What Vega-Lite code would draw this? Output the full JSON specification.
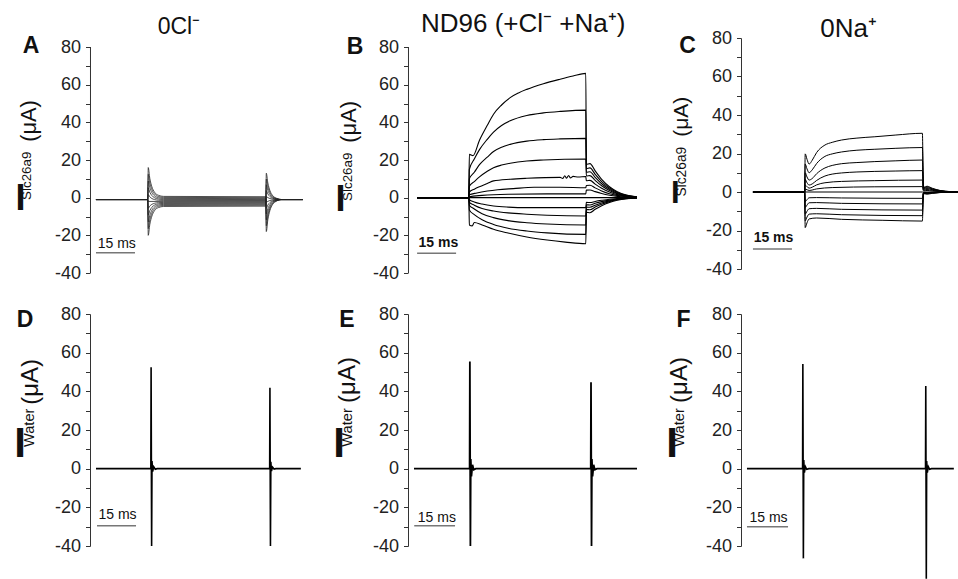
{
"$schema": "https://vega.github.io/schema/vega-lite/v6.json",
"autosize": {"type": "pad"},
"padding": {"left": 14, "top": 10, "right": 0, "bottom": 0},
"background": "white",
"config": {
  "view": {"stroke": null},
  "font": "Liberation Sans",
  "axis": {"grid": false, "domainColor": "#333", "tickColor": "#333", "tickSize": 4.5, "tickWidth": 1, "labelFontSize": 18, "labelColor": "#222", "labelPadding": 5, "labelOverlap": false, "labelFlush": false, "labelBound": false},
  "text": {"color": "#111", "font": "Liberation Sans"}
},
"datasets": {
"A": [
{"s":0,"t":0,"v":-1},{"s":0,"t":19.9,"v":-1},{"s":0,"t":20.1,"v":16},{"s":0,"t":20.7,"v":10.27},{"s":0,"t":21.5,"v":5.77},{"s":0,"t":22.5,"v":2.93},{"s":0,"t":24,"v":1.28},{"s":0,"t":26,"v":0.67},{"s":0,"t":65.3,"v":0.5},{"s":0,"t":65.5,"v":-18},{"s":0,"t":66.1,"v":-11.71},{"s":0,"t":66.9,"v":-6.78},{"s":0,"t":67.9,"v":-3.67},{"s":0,"t":69.4,"v":-1.85},{"s":0,"t":71.4,"v":-1},{"s":0,"t":79.6,"v":-1},
{"s":1,"t":0,"v":-1},{"s":1,"t":19.9,"v":-1},{"s":1,"t":20.1,"v":12.4},{"s":1,"t":20.7,"v":7.81},{"s":1,"t":21.5,"v":4.22},{"s":1,"t":22.5,"v":1.95},{"s":1,"t":24,"v":0.62},{"s":1,"t":26,"v":0.14},{"s":1,"t":65.3,"v":0},{"s":1,"t":65.5,"v":-14.9},{"s":1,"t":66.1,"v":-9.76},{"s":1,"t":66.9,"v":-5.73},{"s":1,"t":67.9,"v":-3.18},{"s":1,"t":69.4,"v":-1.7},{"s":1,"t":71.4,"v":-1},{"s":1,"t":79.6,"v":-1},
{"s":2,"t":0,"v":-1},{"s":2,"t":19.9,"v":-1},{"s":2,"t":20.1,"v":8.8},{"s":2,"t":20.7,"v":5.36},{"s":2,"t":21.5,"v":2.66},{"s":2,"t":22.5,"v":0.96},{"s":2,"t":24,"v":-0.03},{"s":2,"t":26,"v":-0.4},{"s":2,"t":65.3,"v":-0.5},{"s":2,"t":65.5,"v":-11.8},{"s":2,"t":66.1,"v":-7.8},{"s":2,"t":66.9,"v":-4.67},{"s":2,"t":67.9,"v":-2.7},{"s":2,"t":69.4,"v":-1.54},{"s":2,"t":71.4,"v":-1},{"s":2,"t":79.6,"v":-1},
{"s":3,"t":0,"v":-1},{"s":3,"t":19.9,"v":-1},{"s":3,"t":20.1,"v":5.2},{"s":3,"t":20.7,"v":2.91},{"s":3,"t":21.5,"v":1.11},{"s":3,"t":22.5,"v":-0.03},{"s":3,"t":24,"v":-0.69},{"s":3,"t":26,"v":-0.93},{"s":3,"t":65.3,"v":-1},{"s":3,"t":65.5,"v":-8.7},{"s":3,"t":66.1,"v":-5.85},{"s":3,"t":66.9,"v":-3.62},{"s":3,"t":67.9,"v":-2.21},{"s":3,"t":69.4,"v":-1.39},{"s":3,"t":71.4,"v":-1},{"s":3,"t":79.6,"v":-1},
{"s":4,"t":0,"v":-1},{"s":4,"t":19.9,"v":-1},{"s":4,"t":20.1,"v":1.6},{"s":4,"t":20.7,"v":0.45},{"s":4,"t":21.5,"v":-0.45},{"s":4,"t":22.5,"v":-1.01},{"s":4,"t":24,"v":-1.34},{"s":4,"t":26,"v":-1.47},{"s":4,"t":65.3,"v":-1.5},{"s":4,"t":65.5,"v":-5.6},{"s":4,"t":66.1,"v":-3.9},{"s":4,"t":66.9,"v":-2.56},{"s":4,"t":67.9,"v":-1.72},{"s":4,"t":69.4,"v":-1.23},{"s":4,"t":71.4,"v":-1},{"s":4,"t":79.6,"v":-1},
{"s":5,"t":0,"v":-1},{"s":5,"t":19.9,"v":-1},{"s":5,"t":20.1,"v":-2},{"s":5,"t":26,"v":-2},{"s":5,"t":65.3,"v":-2},{"s":5,"t":65.5,"v":-2.5},{"s":5,"t":66.1,"v":-1.95},{"s":5,"t":66.9,"v":-1.51},{"s":5,"t":67.9,"v":-1.24},{"s":5,"t":69.4,"v":-1.08},{"s":5,"t":71.4,"v":-1},{"s":5,"t":79.6,"v":-1},
{"s":6,"t":0,"v":-1},{"s":6,"t":19.9,"v":-1},{"s":6,"t":20.1,"v":-5.6},{"s":6,"t":20.7,"v":-4.45},{"s":6,"t":21.5,"v":-3.55},{"s":6,"t":22.5,"v":-2.99},{"s":6,"t":24,"v":-2.66},{"s":6,"t":26,"v":-2.53},{"s":6,"t":65.3,"v":-2.5},{"s":6,"t":65.5,"v":0.6},{"s":6,"t":66.1,"v":0.01},{"s":6,"t":66.9,"v":-0.46},{"s":6,"t":67.9,"v":-0.75},{"s":6,"t":69.4,"v":-0.92},{"s":6,"t":71.4,"v":-1},{"s":6,"t":79.6,"v":-1},
{"s":7,"t":0,"v":-1},{"s":7,"t":19.9,"v":-1},{"s":7,"t":20.1,"v":-9.2},{"s":7,"t":20.7,"v":-6.91},{"s":7,"t":21.5,"v":-5.11},{"s":7,"t":22.5,"v":-3.97},{"s":7,"t":24,"v":-3.31},{"s":7,"t":26,"v":-3.07},{"s":7,"t":65.3,"v":-3},{"s":7,"t":65.5,"v":3.7},{"s":7,"t":66.1,"v":1.96},{"s":7,"t":66.9,"v":0.6},{"s":7,"t":67.9,"v":-0.26},{"s":7,"t":69.4,"v":-0.76},{"s":7,"t":71.4,"v":-1},{"s":7,"t":79.6,"v":-1},
{"s":8,"t":0,"v":-1},{"s":8,"t":19.9,"v":-1},{"s":8,"t":20.1,"v":-12.8},{"s":8,"t":20.7,"v":-9.36},{"s":8,"t":21.5,"v":-6.66},{"s":8,"t":22.5,"v":-4.96},{"s":8,"t":24,"v":-3.97},{"s":8,"t":26,"v":-3.6},{"s":8,"t":65.3,"v":-3.5},{"s":8,"t":65.5,"v":6.8},{"s":8,"t":66.1,"v":3.91},{"s":8,"t":66.9,"v":1.65},{"s":8,"t":67.9,"v":0.22},{"s":8,"t":69.4,"v":-0.61},{"s":8,"t":71.4,"v":-1},{"s":8,"t":79.6,"v":-1},
{"s":9,"t":0,"v":-1},{"s":9,"t":19.9,"v":-1},{"s":9,"t":20.1,"v":-16.4},{"s":9,"t":20.7,"v":-11.81},{"s":9,"t":21.5,"v":-8.22},{"s":9,"t":22.5,"v":-5.95},{"s":9,"t":24,"v":-4.62},{"s":9,"t":26,"v":-4.14},{"s":9,"t":65.3,"v":-4},{"s":9,"t":65.5,"v":9.9},{"s":9,"t":66.1,"v":5.87},{"s":9,"t":66.9,"v":2.71},{"s":9,"t":67.9,"v":0.71},{"s":9,"t":69.4,"v":-0.45},{"s":9,"t":71.4,"v":-1},{"s":9,"t":79.6,"v":-1},
{"s":10,"t":0,"v":-1},{"s":10,"t":19.9,"v":-1},{"s":10,"t":20.1,"v":-20},{"s":10,"t":20.7,"v":-14.27},{"s":10,"t":21.5,"v":-9.77},{"s":10,"t":22.5,"v":-6.93},{"s":10,"t":24,"v":-5.28},{"s":10,"t":26,"v":-4.67},{"s":10,"t":65.3,"v":-4.5},{"s":10,"t":65.5,"v":13},{"s":10,"t":66.1,"v":7.82},{"s":10,"t":66.9,"v":3.76},{"s":10,"t":67.9,"v":1.2},{"s":10,"t":69.4,"v":-0.3},{"s":10,"t":71.4,"v":-1},{"s":10,"t":79.6,"v":-1}
],
"B": [
{"s":1,"t":0,"v":0},{"s":1,"t":19.9,"v":0},{"s":1,"t":20.1,"v":23},{"s":1,"t":21.5,"v":22.3},{"s":1,"t":24,"v":30.5},{"s":1,"t":27,"v":38.4},{"s":1,"t":29.4,"v":44.3},{"s":1,"t":32.5,"v":49.2},{"s":1,"t":35.8,"v":53.1},{"s":1,"t":39,"v":55.6},{"s":1,"t":42.2,"v":57.5},{"s":1,"t":48.6,"v":60.5},{"s":1,"t":55,"v":62.9},{"s":1,"t":60,"v":64.6},{"s":1,"t":64.9,"v":66},{"s":1,"t":65.1,"v":17.7},{"s":1,"t":66.5,"v":18.1},{"s":1,"t":68.5,"v":14.2},{"s":1,"t":71,"v":9.7},{"s":1,"t":74,"v":5.8},{"s":1,"t":77,"v":3.2},{"s":1,"t":80.5,"v":1.4},{"s":1,"t":84.6,"v":0.4},
{"s":2,"t":0,"v":0},{"s":2,"t":19.9,"v":0},{"s":2,"t":20.1,"v":15},{"s":2,"t":22,"v":20.5},{"s":2,"t":24,"v":25.5},{"s":2,"t":27,"v":31},{"s":2,"t":29.4,"v":34.8},{"s":2,"t":32.5,"v":38.3},{"s":2,"t":35.8,"v":40.8},{"s":2,"t":42.2,"v":43.6},{"s":2,"t":48.6,"v":45},{"s":2,"t":55,"v":45.8},{"s":2,"t":64.9,"v":46.5},{"s":2,"t":65.1,"v":15.5},{"s":2,"t":66.5,"v":15.8},{"s":2,"t":68.5,"v":12.4},{"s":2,"t":71,"v":8.5},{"s":2,"t":74,"v":5.1},{"s":2,"t":77,"v":2.8},{"s":2,"t":80.5,"v":1.2},{"s":2,"t":84.6,"v":0.3},
{"s":3,"t":0,"v":0},{"s":3,"t":19.9,"v":0},{"s":3,"t":20.1,"v":10},{"s":3,"t":22,"v":13.5},{"s":3,"t":24,"v":17.5},{"s":3,"t":27,"v":21.5},{"s":3,"t":29.4,"v":24.5},{"s":3,"t":32.5,"v":26.8},{"s":3,"t":35.8,"v":28.3},{"s":3,"t":42.2,"v":30},{"s":3,"t":48.6,"v":30.8},{"s":3,"t":55,"v":31.2},{"s":3,"t":64.9,"v":31.5},{"s":3,"t":65.1,"v":13.5},{"s":3,"t":66.5,"v":13.8},{"s":3,"t":68.5,"v":10.8},{"s":3,"t":71,"v":7.4},{"s":3,"t":74,"v":4.5},{"s":3,"t":77,"v":2.4},{"s":3,"t":80.5,"v":1.1},{"s":3,"t":84.6,"v":0.3},
{"s":4,"t":0,"v":0},{"s":4,"t":19.9,"v":0},{"s":4,"t":20.1,"v":6},{"s":4,"t":22,"v":8.5},{"s":4,"t":24,"v":11},{"s":4,"t":27,"v":14},{"s":4,"t":29.4,"v":15.9},{"s":4,"t":32.5,"v":17.3},{"s":4,"t":35.8,"v":18.3},{"s":4,"t":42.2,"v":19.5},{"s":4,"t":48.6,"v":20},{"s":4,"t":64.9,"v":20.5},{"s":4,"t":65.1,"v":11.5},{"s":4,"t":66.5,"v":11.7},{"s":4,"t":68.5,"v":9.2},{"s":4,"t":71,"v":6.3},{"s":4,"t":74,"v":3.8},{"s":4,"t":77,"v":2.1},{"s":4,"t":80.5,"v":0.9},{"s":4,"t":84.6,"v":0.2},
{"s":5,"t":0,"v":0},{"s":5,"t":19.9,"v":0},{"s":5,"t":20.1,"v":3},{"s":5,"t":22,"v":4.5},{"s":5,"t":24,"v":5.8},{"s":5,"t":27,"v":7.5},{"s":5,"t":29.4,"v":8.9},{"s":5,"t":35.8,"v":9.8},{"s":5,"t":42.2,"v":10.3},{"s":5,"t":55,"v":10.8},{"s":5,"t":56,"v":10.2},{"s":5,"t":56.8,"v":11.6},{"s":5,"t":57.5,"v":10.3},{"s":5,"t":58.3,"v":11.8},{"s":5,"t":59,"v":10.5},{"s":5,"t":60,"v":11.3},{"s":5,"t":62,"v":11},{"s":5,"t":64.9,"v":11.2},{"s":5,"t":65.1,"v":9},{"s":5,"t":66.5,"v":9.2},{"s":5,"t":68.5,"v":7.2},{"s":5,"t":71,"v":5},{"s":5,"t":74,"v":3},{"s":5,"t":77,"v":1.6},{"s":5,"t":80.5,"v":0.7},{"s":5,"t":84.6,"v":0.2},
{"s":6,"t":0,"v":0},{"s":6,"t":19.9,"v":0},{"s":6,"t":20.1,"v":1.5},{"s":6,"t":23,"v":2.5},{"s":6,"t":27,"v":3.5},{"s":6,"t":31,"v":4.2},{"s":6,"t":37,"v":4.8},{"s":6,"t":45,"v":5.5},{"s":6,"t":55,"v":5.5},{"s":6,"t":64.9,"v":5.3},{"s":6,"t":65.1,"v":6.5},{"s":6,"t":66.5,"v":6.6},{"s":6,"t":68.5,"v":5.2},{"s":6,"t":71,"v":3.6},{"s":6,"t":74,"v":2.1},{"s":6,"t":77,"v":1.2},{"s":6,"t":80.5,"v":0.5},{"s":6,"t":84.6,"v":0.1},
{"s":7,"t":0,"v":0},{"s":7,"t":19.9,"v":0},{"s":7,"t":20.1,"v":0.5},{"s":7,"t":25,"v":1.2},{"s":7,"t":35,"v":1.8},{"s":7,"t":50,"v":2},{"s":7,"t":64.9,"v":2},{"s":7,"t":65.1,"v":4},{"s":7,"t":66.5,"v":4.1},{"s":7,"t":68.5,"v":3.2},{"s":7,"t":71,"v":2.2},{"s":7,"t":74,"v":1.3},{"s":7,"t":77,"v":0.7},{"s":7,"t":80.5,"v":0.3},{"s":7,"t":84.6,"v":0.1},
{"s":8,"t":0,"v":0},{"s":8,"t":19.9,"v":0},{"s":8,"t":20.1,"v":0},{"s":8,"t":64.9,"v":0},{"s":8,"t":65.1,"v":0},{"s":8,"t":84.6,"v":0},
{"s":9,"t":0,"v":0},{"s":9,"t":19.9,"v":0},{"s":9,"t":20.1,"v":-1},{"s":9,"t":22,"v":-2.3},{"s":9,"t":25,"v":-3.4},{"s":9,"t":29.4,"v":-4.4},{"s":9,"t":35,"v":-5},{"s":9,"t":42.2,"v":-5.3},{"s":9,"t":64.9,"v":-5.3},{"s":9,"t":65.1,"v":-2.5},{"s":9,"t":66.5,"v":-2.6},{"s":9,"t":68.5,"v":-2},{"s":9,"t":71,"v":-1.4},{"s":9,"t":74,"v":-0.8},{"s":9,"t":77,"v":-0.5},{"s":9,"t":80.5,"v":-0.2},{"s":9,"t":84.6,"v":0},
{"s":10,"t":0,"v":0},{"s":10,"t":19.9,"v":0},{"s":10,"t":20.1,"v":-2.5},{"s":10,"t":22,"v":-4},{"s":10,"t":25,"v":-5.8},{"s":10,"t":29.4,"v":-7.1},{"s":10,"t":35,"v":-8.1},{"s":10,"t":42.2,"v":-8.8},{"s":10,"t":50,"v":-9.3},{"s":10,"t":64.9,"v":-9.7},{"s":10,"t":65.1,"v":-3.8},{"s":10,"t":66.5,"v":-3.9},{"s":10,"t":68.5,"v":-3},{"s":10,"t":71,"v":-2.1},{"s":10,"t":74,"v":-1.3},{"s":10,"t":77,"v":-0.7},{"s":10,"t":80.5,"v":-0.3},{"s":10,"t":84.6,"v":-0.1},
{"s":11,"t":0,"v":0},{"s":11,"t":19.9,"v":0},{"s":11,"t":20.1,"v":-4},{"s":11,"t":22,"v":-6},{"s":11,"t":25,"v":-8.5},{"s":11,"t":29.4,"v":-10.6},{"s":11,"t":35,"v":-12.2},{"s":11,"t":42.2,"v":-13.3},{"s":11,"t":50,"v":-14},{"s":11,"t":64.9,"v":-14.5},{"s":11,"t":65.1,"v":-5},{"s":11,"t":66.5,"v":-5.1},{"s":11,"t":68.5,"v":-4},{"s":11,"t":71,"v":-2.8},{"s":11,"t":74,"v":-1.7},{"s":11,"t":77,"v":-0.9},{"s":11,"t":80.5,"v":-0.4},{"s":11,"t":84.6,"v":-0.1},
{"s":12,"t":0,"v":0},{"s":12,"t":19.9,"v":0},{"s":12,"t":20.1,"v":-6.5},{"s":12,"t":22,"v":-9},{"s":12,"t":25,"v":-11.7},{"s":12,"t":29.4,"v":-14.2},{"s":12,"t":35,"v":-16.2},{"s":12,"t":42.2,"v":-17.7},{"s":12,"t":50,"v":-18.7},{"s":12,"t":64.9,"v":-19.5},{"s":12,"t":65.1,"v":-6.3},{"s":12,"t":66.5,"v":-6.4},{"s":12,"t":68.5,"v":-5},{"s":12,"t":71,"v":-3.5},{"s":12,"t":74,"v":-2.1},{"s":12,"t":77,"v":-1.1},{"s":12,"t":80.5,"v":-0.5},{"s":12,"t":84.6,"v":-0.1},
{"s":13,"t":0,"v":0},{"s":13,"t":19.9,"v":0},{"s":13,"t":20.1,"v":-14.5},{"s":13,"t":21.2,"v":-15},{"s":13,"t":22,"v":-13.2},{"s":13,"t":25,"v":-14.5},{"s":13,"t":29.4,"v":-16.8},{"s":13,"t":35,"v":-18.8},{"s":13,"t":42.2,"v":-20.9},{"s":13,"t":50,"v":-22.5},{"s":13,"t":57,"v":-23.6},{"s":13,"t":64.9,"v":-24.5},{"s":13,"t":65.1,"v":-7.8},{"s":13,"t":66.5,"v":-8},{"s":13,"t":68.5,"v":-6.2},{"s":13,"t":71,"v":-4.3},{"s":13,"t":74,"v":-2.6},{"s":13,"t":77,"v":-1.4},{"s":13,"t":80.5,"v":-0.6},{"s":13,"t":84.6,"v":-0.2}
],
"C": [
{"s":1,"t":0,"v":0},{"s":1,"t":19.9,"v":0},{"s":1,"t":20.1,"v":19.8},{"s":1,"t":20.8,"v":17},{"s":1,"t":21.6,"v":14.5},{"s":1,"t":22.8,"v":16.5},{"s":1,"t":24.5,"v":20.5},{"s":1,"t":27.7,"v":24.4},{"s":1,"t":30.5,"v":25.8},{"s":1,"t":34.1,"v":27},{"s":1,"t":40,"v":28},{"s":1,"t":46.9,"v":28.7},{"s":1,"t":55,"v":29.6},{"s":1,"t":65.2,"v":30.5},{"s":1,"t":65.6,"v":2.4},{"s":1,"t":67,"v":3},{"s":1,"t":69,"v":1.95},{"s":1,"t":72,"v":0.8},{"s":1,"t":76,"v":0.2},{"s":1,"t":79.2,"v":0},
{"s":2,"t":0,"v":0},{"s":2,"t":19.9,"v":0},{"s":2,"t":20.1,"v":14.5},{"s":2,"t":20.8,"v":12},{"s":2,"t":21.6,"v":10},{"s":2,"t":22.8,"v":11.5},{"s":2,"t":24.5,"v":14.8},{"s":2,"t":27.7,"v":18.5},{"s":2,"t":30.5,"v":19.8},{"s":2,"t":34.1,"v":20.8},{"s":2,"t":40,"v":21.7},{"s":2,"t":46.9,"v":22.2},{"s":2,"t":55,"v":22.7},{"s":2,"t":65.2,"v":23.1},{"s":2,"t":65.6,"v":2.1},{"s":2,"t":67,"v":2.6},{"s":2,"t":69,"v":1.7},{"s":2,"t":72,"v":0.7},{"s":2,"t":76,"v":0.2},{"s":2,"t":79.2,"v":0},
{"s":3,"t":0,"v":0},{"s":3,"t":19.9,"v":0},{"s":3,"t":20.1,"v":10},{"s":3,"t":20.8,"v":7.8},{"s":3,"t":21.6,"v":6.2},{"s":3,"t":22.8,"v":7},{"s":3,"t":24.5,"v":9.5},{"s":3,"t":27.7,"v":12.5},{"s":3,"t":30.5,"v":13.8},{"s":3,"t":34.1,"v":14.7},{"s":3,"t":40,"v":15.3},{"s":3,"t":46.9,"v":15.8},{"s":3,"t":55,"v":16.2},{"s":3,"t":65.2,"v":16.6},{"s":3,"t":65.6,"v":1.8},{"s":3,"t":67,"v":2.2},{"s":3,"t":69,"v":1.4},{"s":3,"t":72,"v":0.6},{"s":3,"t":76,"v":0.15},{"s":3,"t":79.2,"v":0},
{"s":4,"t":0,"v":0},{"s":4,"t":19.9,"v":0},{"s":4,"t":20.1,"v":6.5},{"s":4,"t":20.8,"v":4.8},{"s":4,"t":21.6,"v":3.6},{"s":4,"t":22.8,"v":4.2},{"s":4,"t":24.5,"v":6},{"s":4,"t":27.7,"v":8.3},{"s":4,"t":30.5,"v":9.3},{"s":4,"t":34.1,"v":9.9},{"s":4,"t":40,"v":10.4},{"s":4,"t":46.9,"v":10.7},{"s":4,"t":55,"v":10.9},{"s":4,"t":65.2,"v":11.1},{"s":4,"t":65.6,"v":1.4},{"s":4,"t":67,"v":1.8},{"s":4,"t":69,"v":1.2},{"s":4,"t":72,"v":0.5},{"s":4,"t":76,"v":0.1},{"s":4,"t":79.2,"v":0},
{"s":5,"t":0,"v":0},{"s":5,"t":19.9,"v":0},{"s":5,"t":20.1,"v":3.5},{"s":5,"t":21.6,"v":2},{"s":5,"t":22.8,"v":2.5},{"s":5,"t":24.5,"v":3.7},{"s":5,"t":27.7,"v":4.8},{"s":5,"t":34.1,"v":5.5},{"s":5,"t":46.9,"v":5.9},{"s":5,"t":65.2,"v":6.2},{"s":5,"t":65.6,"v":1},{"s":5,"t":67,"v":1.3},{"s":5,"t":69,"v":0.85},{"s":5,"t":72,"v":0.35},{"s":5,"t":76,"v":0.1},{"s":5,"t":79.2,"v":0},
{"s":6,"t":0,"v":0},{"s":6,"t":19.9,"v":0},{"s":6,"t":20.1,"v":1.5},{"s":6,"t":21.6,"v":0.8},{"s":6,"t":24.5,"v":1.6},{"s":6,"t":30.5,"v":2.3},{"s":6,"t":46.9,"v":2.7},{"s":6,"t":65.2,"v":2.8},{"s":6,"t":65.6,"v":0.6},{"s":6,"t":67,"v":0.8},{"s":6,"t":69,"v":0.5},{"s":6,"t":72,"v":0.2},{"s":6,"t":76,"v":0.05},{"s":6,"t":79.2,"v":0},
{"s":7,"t":0,"v":0},{"s":7,"t":19.9,"v":0},{"s":7,"t":20.1,"v":0},{"s":7,"t":65.2,"v":0},{"s":7,"t":65.6,"v":0},{"s":7,"t":79.2,"v":0},
{"s":8,"t":0,"v":0},{"s":8,"t":19.9,"v":0},{"s":8,"t":20.1,"v":-5},{"s":8,"t":20.8,"v":-4},{"s":8,"t":21.6,"v":-3},{"s":8,"t":24.5,"v":-2.9},{"s":8,"t":34.1,"v":-3.1},{"s":8,"t":65.2,"v":-3.3},{"s":8,"t":65.6,"v":-0.24},{"s":8,"t":67,"v":-0.3},{"s":8,"t":69,"v":-0.2},{"s":8,"t":72,"v":-0.08},{"s":8,"t":76,"v":-0.02},{"s":8,"t":79.2,"v":0},
{"s":9,"t":0,"v":0},{"s":9,"t":19.9,"v":0},{"s":9,"t":20.1,"v":-8},{"s":9,"t":20.8,"v":-6.8},{"s":9,"t":21.6,"v":-5.6},{"s":9,"t":24.5,"v":-5.5},{"s":9,"t":34.1,"v":-5.9},{"s":9,"t":65.2,"v":-6.2},{"s":9,"t":65.6,"v":-0.4},{"s":9,"t":67,"v":-0.5},{"s":9,"t":69,"v":-0.33},{"s":9,"t":72,"v":-0.14},{"s":9,"t":76,"v":-0.04},{"s":9,"t":79.2,"v":0},
{"s":10,"t":0,"v":0},{"s":10,"t":19.9,"v":0},{"s":10,"t":20.1,"v":-11.5},{"s":10,"t":20.8,"v":-10},{"s":10,"t":21.6,"v":-8.7},{"s":10,"t":24.5,"v":-8.5},{"s":10,"t":34.1,"v":-9},{"s":10,"t":65.2,"v":-9.4},{"s":10,"t":65.6,"v":-0.56},{"s":10,"t":67,"v":-0.7},{"s":10,"t":69,"v":-0.46},{"s":10,"t":72,"v":-0.19},{"s":10,"t":76,"v":-0.05},{"s":10,"t":79.2,"v":0},
{"s":11,"t":0,"v":0},{"s":11,"t":19.9,"v":0},{"s":11,"t":20.1,"v":-15},{"s":11,"t":20.8,"v":-13},{"s":11,"t":21.6,"v":-11.5},{"s":11,"t":24.5,"v":-11.3},{"s":11,"t":34.1,"v":-11.8},{"s":11,"t":65.2,"v":-12.3},{"s":11,"t":65.6,"v":-0.72},{"s":11,"t":67,"v":-0.9},{"s":11,"t":69,"v":-0.59},{"s":11,"t":72,"v":-0.24},{"s":11,"t":76,"v":-0.06},{"s":11,"t":79.2,"v":0},
{"s":12,"t":0,"v":0},{"s":12,"t":19.9,"v":0},{"s":12,"t":20.1,"v":-18.5},{"s":12,"t":20.8,"v":-16},{"s":12,"t":21.6,"v":-14},{"s":12,"t":24.5,"v":-13.5},{"s":12,"t":34.1,"v":-14.2},{"s":12,"t":50,"v":-14.7},{"s":12,"t":65.2,"v":-15.1},{"s":12,"t":65.6,"v":-0.88},{"s":12,"t":67,"v":-1.1},{"s":12,"t":69,"v":-0.72},{"s":12,"t":72,"v":-0.3},{"s":12,"t":76,"v":-0.08},{"s":12,"t":79.2,"v":0}
],
"D": [
{"s":1,"t":0,"v":0},{"s":1,"t":21.1,"v":0},{"s":1,"t":21.2,"v":52.5},{"s":1,"t":21.4,"v":-40},{"s":1,"t":21.55,"v":4},{"s":1,"t":21.8,"v":-1.5},{"s":1,"t":22.2,"v":1},{"s":1,"t":22.8,"v":-0.3},{"s":1,"t":23.5,"v":0},{"s":1,"t":66.8,"v":0},{"s":1,"t":66.9,"v":41.8},{"s":1,"t":67.1,"v":-40},{"s":1,"t":67.25,"v":3.5},{"s":1,"t":67.5,"v":-1.2},{"s":1,"t":67.9,"v":0.8},{"s":1,"t":68.5,"v":-0.2},{"s":1,"t":69.2,"v":0},{"s":1,"t":78.8,"v":0}
],
"E": [
{"s":1,"t":0,"v":0},{"s":1,"t":21.4,"v":0},{"s":1,"t":21.5,"v":55.4},{"s":1,"t":21.7,"v":-40},{"s":1,"t":21.85,"v":5},{"s":1,"t":22.1,"v":-4},{"s":1,"t":22.5,"v":2},{"s":1,"t":23,"v":-0.5},{"s":1,"t":23.8,"v":0},{"s":1,"t":68,"v":0},{"s":1,"t":68.1,"v":44.7},{"s":1,"t":68.3,"v":-40},{"s":1,"t":68.45,"v":5},{"s":1,"t":68.7,"v":-4},{"s":1,"t":69.1,"v":2},{"s":1,"t":69.6,"v":-0.5},{"s":1,"t":70.4,"v":0},{"s":1,"t":85.8,"v":0}
],
"F": [
{"s":1,"t":0,"v":0},{"s":1,"t":21.4,"v":0},{"s":1,"t":21.5,"v":54.2},{"s":1,"t":21.7,"v":-46.4},{"s":1,"t":21.85,"v":4.5},{"s":1,"t":22.1,"v":-2},{"s":1,"t":22.5,"v":1},{"s":1,"t":23,"v":-0.3},{"s":1,"t":23.8,"v":0},{"s":1,"t":68.7,"v":0},{"s":1,"t":68.8,"v":42.8},{"s":1,"t":69,"v":-57},{"s":1,"t":69.15,"v":4},{"s":1,"t":69.4,"v":-2},{"s":1,"t":69.8,"v":1},{"s":1,"t":70.3,"v":-0.3},{"s":1,"t":71,"v":0},{"s":1,"t":79.6,"v":0}
]
},
"columns": 3,
"bounds": "flush",
"align": "each",
"spacing": {"row": 41, "column": 0},
"concat": [
{"width": 318, "height": 235, "resolve": {"axis": {"x": "independent", "y": "independent"}}, "layer": [
  {"data": {"name": "A"}, "mark": {"type": "line", "interpolate": "monotone", "strokeWidth": 0.8, "color": "#222"},
   "encoding": {"x": {"field": "t", "type": "quantitative", "scale": {"domain": [-2.3, 120], "nice": false, "zero": false}, "axis": null},
     "y": {"field": "v", "type": "quantitative", "scale": {"domain": [-40, 84.78], "nice": false, "zero": false}, "axis": {"domain": false, "title": null, "values": [-40,-30,-20,-10,0,10,20,30,40,50,60,70,80], "labelExpr": "datum.value % 20 === 0 ? '' + datum.value : ''"}},
     "detail": {"field": "s"}}},
  {"data": {"values": [{}]}, "mark": {"type": "rule", "color": "#333", "strokeWidth": 1}, "encoding": {"x": {"datum": -2.11, "axis": null}, "y": {"datum": -40, "axis": null}, "y2": {"datum": 80}}},
  {"data": {"values": [{}]}, "mark": {"type": "rule", "color": "#777", "strokeWidth": 1.5}, "encoding": {"x": {"datum": 0, "axis": null}, "x2": {"datum": 15}, "y": {"datum": -29.2, "axis": null}}},
  {"data": {"values": [{}]}, "mark": {"type": "text", "fontSize": 14, "align": "center", "baseline": "alphabetic"}, "encoding": {"text": {"value": "15 ms"}, "x": {"datum": 8, "axis": null}, "y": {"datum": -26.7, "axis": null}}},
  {"data": {"values": [{}]}, "mark": {"type": "text", "fontSize": 23, "fontWeight": "bold", "align": "center", "baseline": "alphabetic"}, "encoding": {"text": {"value": "A"}, "x": {"datum": -25, "axis": null}, "y": {"datum": 76.7, "axis": null}}},
  {"data": {"values": [{}]}, "mark": {"type": "text", "fontSize": 23, "align": "center", "baseline": "alphabetic"}, "encoding": {"text": {"value": "0Cl⁻"}, "x": {"datum": 31.9, "axis": null}, "y": {"datum": 86.8, "axis": null}}},
  {"data": {"values": [{}]}, "mark": {"type": "text", "fontSize": 36, "fontWeight": "bold", "align": "center", "baseline": "alphabetic"}, "encoding": {"text": {"value": "I"}, "x": {"datum": -29, "axis": null}, "y": {"datum": -6.5, "axis": null}}},
  {"data": {"values": [{}]}, "mark": {"type": "text", "fontSize": 13.4, "angle": 270, "align": "left", "baseline": "alphabetic"}, "encoding": {"text": {"value": "Slc26a9"}, "x": {"datum": -24.8, "axis": null}, "y": {"datum": -1.2, "axis": null}}},
  {"data": {"values": [{}]}, "mark": {"type": "text", "fontSize": 21.8, "angle": 270, "align": "left", "baseline": "alphabetic"}, "encoding": {"text": {"value": "(μA)"}, "x": {"datum": -23.1, "axis": null}, "y": {"datum": 29.7, "axis": null}}}
]},
{"width": 333, "height": 235, "resolve": {"axis": {"x": "independent", "y": "independent"}}, "layer": [
  {"data": {"name": "B"}, "mark": {"type": "line", "interpolate": "monotone", "strokeWidth": 1.1, "color": "#000"},
   "encoding": {"x": {"field": "t", "type": "quantitative", "scale": {"domain": [-3.5, 124.6], "nice": false, "zero": false}, "axis": null},
     "y": {"field": "v", "type": "quantitative", "scale": {"domain": [-40, 84.78], "nice": false, "zero": false}, "axis": {"domain": false, "title": null, "values": [-40,-30,-20,-10,0,10,20,30,40,50,60,70,80], "labelExpr": "datum.value % 20 === 0 ? '' + datum.value : ''"}},
     "detail": {"field": "s"}}},
  {"data": {"values": [{}]}, "mark": {"type": "rule", "color": "#333", "strokeWidth": 1}, "encoding": {"x": {"datum": -3.31, "axis": null}, "y": {"datum": -40, "axis": null}, "y2": {"datum": 80}}},
  {"data": {"values": [{}]}, "mark": {"type": "rule", "color": "#777", "strokeWidth": 1.5}, "encoding": {"x": {"datum": 0, "axis": null}, "x2": {"datum": 15}, "y": {"datum": -29.5, "axis": null}}},
  {"data": {"values": [{}]}, "mark": {"type": "text", "fontSize": 14, "fontWeight": "bold", "align": "center", "baseline": "alphabetic"}, "encoding": {"text": {"value": "15 ms"}, "x": {"datum": 8.2, "axis": null}, "y": {"datum": -26.2, "axis": null}}},
  {"data": {"values": [{}]}, "mark": {"type": "text", "fontSize": 23, "fontWeight": "bold", "align": "center", "baseline": "alphabetic"}, "encoding": {"text": {"value": "B"}, "x": {"datum": -23.9, "axis": null}, "y": {"datum": 76.3, "axis": null}}},
  {"data": {"values": [{}]}, "mark": {"type": "text", "fontSize": 26, "align": "center", "baseline": "alphabetic"}, "encoding": {"text": {"value": "ND96 (+Cl⁻ +Na⁺)"}, "x": {"datum": 40.8, "axis": null}, "y": {"datum": 88, "axis": null}}},
  {"data": {"values": [{}]}, "mark": {"type": "text", "fontSize": 36, "fontWeight": "bold", "align": "center", "baseline": "alphabetic"}, "encoding": {"text": {"value": "I"}, "x": {"datum": -29.5, "axis": null}, "y": {"datum": -7, "axis": null}}},
  {"data": {"values": [{}]}, "mark": {"type": "text", "fontSize": 13.4, "angle": 270, "align": "left", "baseline": "alphabetic"}, "encoding": {"text": {"value": "Slc26a9"}, "x": {"datum": -25.2, "axis": null}, "y": {"datum": -1.75, "axis": null}}},
  {"data": {"values": [{}]}, "mark": {"type": "text", "fontSize": 21.8, "angle": 270, "align": "left", "baseline": "alphabetic"}, "encoding": {"text": {"value": "(μA)"}, "x": {"datum": -23.5, "axis": null}, "y": {"datum": 29.2, "axis": null}}}
]},
{"width": 217, "height": 231, "resolve": {"axis": {"x": "independent", "y": "independent"}}, "layer": [
  {"data": {"name": "C"}, "mark": {"type": "line", "interpolate": "monotone", "strokeWidth": 1, "color": "#000"},
   "encoding": {"x": {"field": "t", "type": "quantitative", "scale": {"domain": [-4.6, 78.9], "nice": false, "zero": false}, "axis": null},
     "y": {"field": "v", "type": "quantitative", "scale": {"domain": [-40, 80], "nice": false, "zero": false}, "axis": {"domain": true, "title": null, "values": [-40,-30,-20,-10,0,10,20,30,40,50,60,70,80], "labelExpr": "datum.value % 20 === 0 ? '' + datum.value : ''"}},
     "detail": {"field": "s"}}},
  {"data": {"values": [{}]}, "mark": {"type": "rule", "color": "#777", "strokeWidth": 1.5}, "encoding": {"x": {"datum": 0, "axis": null}, "x2": {"datum": 15}, "y": {"datum": -29.6, "axis": null}}},
  {"data": {"values": [{}]}, "mark": {"type": "text", "fontSize": 14, "fontWeight": "bold", "align": "center", "baseline": "alphabetic"}, "encoding": {"text": {"value": "15 ms"}, "x": {"datum": 7.9, "axis": null}, "y": {"datum": -25.8, "axis": null}}},
  {"data": {"values": [{}]}, "mark": {"type": "text", "fontSize": 23, "fontWeight": "bold", "align": "center", "baseline": "alphabetic"}, "encoding": {"text": {"value": "C"}, "x": {"datum": -25.2, "axis": null}, "y": {"datum": 72.4, "axis": null}}},
  {"data": {"values": [{}]}, "mark": {"type": "text", "fontSize": 26, "align": "center", "baseline": "alphabetic"}, "encoding": {"text": {"value": "0Na⁺"}, "x": {"datum": 36.8, "axis": null}, "y": {"datum": 80.7, "axis": null}}},
  {"data": {"values": [{}]}, "mark": {"type": "text", "fontSize": 31, "fontWeight": "bold", "align": "center", "baseline": "alphabetic"}, "encoding": {"text": {"value": "I"}, "x": {"datum": -29.9, "axis": null}, "y": {"datum": -5.9, "axis": null}}},
  {"data": {"values": [{}]}, "mark": {"type": "text", "fontSize": 13.8, "angle": 270, "align": "left", "baseline": "alphabetic"}, "encoding": {"text": {"value": "Slc26a9"}, "x": {"datum": -25.8, "axis": null}, "y": {"datum": -2.4, "axis": null}}},
  {"data": {"values": [{}]}, "mark": {"type": "text", "fontSize": 21, "angle": 270, "align": "left", "baseline": "alphabetic"}, "encoding": {"text": {"value": "(μA)"}, "x": {"datum": -25, "axis": null}, "y": {"datum": 28.7, "axis": null}}}
]},
{"width": 318, "height": 232, "resolve": {"axis": {"x": "independent", "y": "independent"}}, "layer": [
  {"data": {"name": "D"}, "mark": {"type": "line", "strokeWidth": 1.6, "color": "#000"},
   "encoding": {"x": {"field": "t", "type": "quantitative", "scale": {"domain": [-2.3, 120], "nice": false, "zero": false}, "axis": null},
     "y": {"field": "v", "type": "quantitative", "scale": {"domain": [-40, 80], "nice": false, "zero": false}, "axis": {"domain": true, "title": null, "values": [-40,-30,-20,-10,0,10,20,30,40,50,60,70,80], "labelExpr": "datum.value % 20 === 0 ? '' + datum.value : ''"}},
     "detail": {"field": "s"}}},
  {"data": {"values": [{}]}, "mark": {"type": "rule", "color": "#777", "strokeWidth": 1.5}, "encoding": {"x": {"datum": 0.4, "axis": null}, "x2": {"datum": 15.4}, "y": {"datum": -29.5, "axis": null}}},
  {"data": {"values": [{}]}, "mark": {"type": "text", "fontSize": 14, "align": "center", "baseline": "alphabetic"}, "encoding": {"text": {"value": "15 ms"}, "x": {"datum": 8.3, "axis": null}, "y": {"datum": -26.2, "axis": null}}},
  {"data": {"values": [{}]}, "mark": {"type": "text", "fontSize": 23, "fontWeight": "bold", "align": "center", "baseline": "alphabetic"}, "encoding": {"text": {"value": "D"}, "x": {"datum": -27.3, "axis": null}, "y": {"datum": 73.5, "axis": null}}},
  {"data": {"values": [{}]}, "mark": {"type": "text", "fontSize": 42, "fontWeight": "bold", "align": "center", "baseline": "alphabetic"}, "encoding": {"text": {"value": "I"}, "x": {"datum": -29.2, "axis": null}, "y": {"datum": 6.05, "axis": null}}},
  {"data": {"values": [{}]}, "mark": {"type": "text", "fontSize": 14.6, "angle": 270, "align": "left", "baseline": "alphabetic"}, "encoding": {"text": {"value": "Water"}, "x": {"datum": -23.8, "axis": null}, "y": {"datum": 11.2, "axis": null}}},
  {"data": {"values": [{}]}, "mark": {"type": "text", "fontSize": 24, "angle": 270, "align": "left", "baseline": "alphabetic"}, "encoding": {"text": {"value": "(μA)"}, "x": {"datum": -22.3, "axis": null}, "y": {"datum": 33, "axis": null}}}
]},
{"width": 333, "height": 232, "resolve": {"axis": {"x": "independent", "y": "independent"}}, "layer": [
  {"data": {"name": "E"}, "mark": {"type": "line", "strokeWidth": 1.8, "color": "#000"},
   "encoding": {"x": {"field": "t", "type": "quantitative", "scale": {"domain": [-2.3, 125.8], "nice": false, "zero": false}, "axis": null},
     "y": {"field": "v", "type": "quantitative", "scale": {"domain": [-40, 80], "nice": false, "zero": false}, "axis": {"domain": true, "title": null, "values": [-40,-30,-20,-10,0,10,20,30,40,50,60,70,80], "labelExpr": "datum.value % 20 === 0 ? '' + datum.value : ''"}},
     "detail": {"field": "s"}}},
  {"data": {"values": [{}]}, "mark": {"type": "rule", "color": "#777", "strokeWidth": 1.5}, "encoding": {"x": {"datum": 0.1, "axis": null}, "x2": {"datum": 15.8}, "y": {"datum": -29.5, "axis": null}}},
  {"data": {"values": [{}]}, "mark": {"type": "text", "fontSize": 14, "align": "center", "baseline": "alphabetic"}, "encoding": {"text": {"value": "15 ms"}, "x": {"datum": 8.8, "axis": null}, "y": {"datum": -27.4, "axis": null}}},
  {"data": {"values": [{}]}, "mark": {"type": "text", "fontSize": 23, "fontWeight": "bold", "align": "center", "baseline": "alphabetic"}, "encoding": {"text": {"value": "E"}, "x": {"datum": -25.8, "axis": null}, "y": {"datum": 73.3, "axis": null}}},
  {"data": {"values": [{}]}, "mark": {"type": "text", "fontSize": 42, "fontWeight": "bold", "align": "center", "baseline": "alphabetic"}, "encoding": {"text": {"value": "I"}, "x": {"datum": -28.8, "axis": null}, "y": {"datum": 6.2, "axis": null}}},
  {"data": {"values": [{}]}, "mark": {"type": "text", "fontSize": 14.6, "angle": 270, "align": "left", "baseline": "alphabetic"}, "encoding": {"text": {"value": "Water"}, "x": {"datum": -23.8, "axis": null}, "y": {"datum": 11.4, "axis": null}}},
  {"data": {"values": [{}]}, "mark": {"type": "text", "fontSize": 24, "angle": 270, "align": "left", "baseline": "alphabetic"}, "encoding": {"text": {"value": "(μA)"}, "x": {"datum": -22.7, "axis": null}, "y": {"datum": 34, "axis": null}}}
]},
{"width": 217, "height": 232, "resolve": {"axis": {"x": "independent", "y": "independent"}}, "layer": [
  {"data": {"name": "F"}, "mark": {"type": "line", "strokeWidth": 1.6, "color": "#000"},
   "encoding": {"x": {"field": "t", "type": "quantitative", "scale": {"domain": [-2.3, 81.2], "nice": false, "zero": false}, "axis": null},
     "y": {"field": "v", "type": "quantitative", "scale": {"domain": [-40, 80], "nice": false, "zero": false}, "axis": {"domain": true, "title": null, "values": [-40,-30,-20,-10,0,10,20,30,40,50,60,70,80], "labelExpr": "datum.value % 20 === 0 ? '' + datum.value : ''"}},
     "detail": {"field": "s"}}},
  {"data": {"values": [{}]}, "mark": {"type": "rule", "color": "#777", "strokeWidth": 1.5}, "encoding": {"x": {"datum": 0, "axis": null}, "x2": {"datum": 15.8}, "y": {"datum": -30, "axis": null}}},
  {"data": {"values": [{}]}, "mark": {"type": "text", "fontSize": 14, "align": "center", "baseline": "alphabetic"}, "encoding": {"text": {"value": "15 ms"}, "x": {"datum": 8.3, "axis": null}, "y": {"datum": -27.4, "axis": null}}},
  {"data": {"values": [{}]}, "mark": {"type": "text", "fontSize": 23, "fontWeight": "bold", "align": "center", "baseline": "alphabetic"}, "encoding": {"text": {"value": "F"}, "x": {"datum": -24.4, "axis": null}, "y": {"datum": 73.3, "axis": null}}},
  {"data": {"values": [{}]}, "mark": {"type": "text", "fontSize": 42, "fontWeight": "bold", "align": "center", "baseline": "alphabetic"}, "encoding": {"text": {"value": "I"}, "x": {"datum": -28.8, "axis": null}, "y": {"datum": 6.2, "axis": null}}},
  {"data": {"values": [{}]}, "mark": {"type": "text", "fontSize": 14.6, "angle": 270, "align": "left", "baseline": "alphabetic"}, "encoding": {"text": {"value": "Water"}, "x": {"datum": -24.3, "axis": null}, "y": {"datum": 11.4, "axis": null}}},
  {"data": {"values": [{}]}, "mark": {"type": "text", "fontSize": 24, "angle": 270, "align": "left", "baseline": "alphabetic"}, "encoding": {"text": {"value": "(μA)"}, "x": {"datum": -23.1, "axis": null}, "y": {"datum": 34, "axis": null}}}
]}
]
}
